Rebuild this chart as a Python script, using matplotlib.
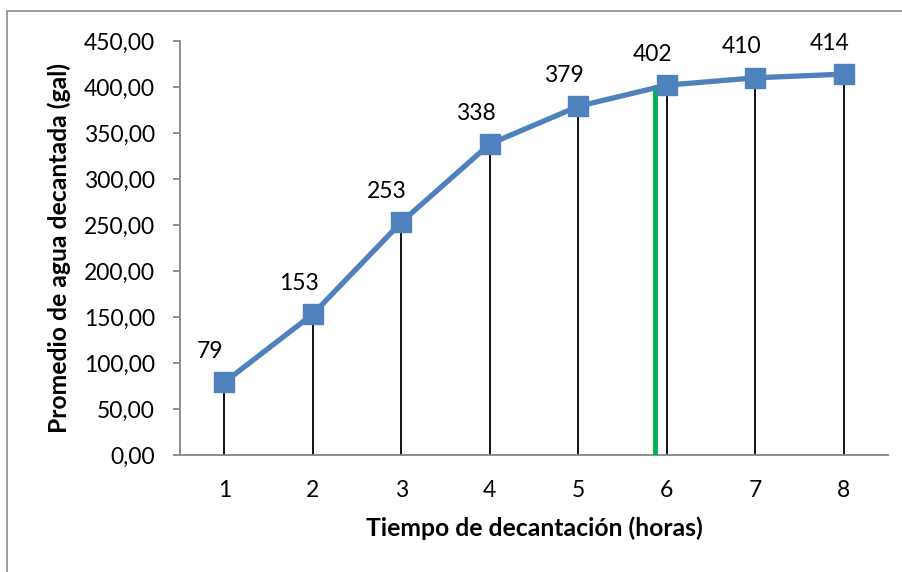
import matplotlib.pyplot as plt
from matplotlib.transforms import offset_copy

# Average decanted water per hour of settling
horas = [1, 2, 3, 4, 5, 6, 7, 8]
agua_gal = [79, 153, 253, 338, 379, 402, 410, 414]
y_ticks = [0, 50, 100, 150, 200, 250, 300, 350, 400, 450]
# green reference line
x_ref = 5.87
y_ref = 402

plt.rcParams['font.family'] = ['Lato', 'DejaVu Sans']

fig = plt.figure(figsize=(9.03, 5.72), dpi=100)
# outer chart frame
fig.patches.append(plt.Rectangle((7 / 903, -0.1), 1.2, 1 - 11 / 572 + 0.1,
                                 transform=fig.transFigure, fill=False,
                                 edgecolor='#8c8c8c', linewidth=1.2))

ax = fig.add_axes([180 / 903, 1 - 455 / 572, (888 - 180) / 903, (455 - 41) / 572])

blue = '#4F81BD'
axis_gray = '#868686'

# drop lines from each point down to the axis
ax.vlines(horas, 0, agua_gal, colors='black', linewidth=1.3, zorder=2)
ax.vlines(x_ref, 0, y_ref, colors='#00B050', linewidth=3.5, zorder=3)

ax.plot(horas, agua_gal, color=blue, linewidth=3.8, marker='s',
        markersize=15, markerfacecolor=blue, markeredgecolor=blue, zorder=4)

lbl_tr = offset_copy(ax.transData, fig=fig, x=-14, y=31, units='dots')
for h, v in zip(horas, agua_gal):
    ax.text(h, v, f'{v}', transform=lbl_tr, ha='center', va='center',
            fontsize=16.5, color='black')

ax.set_xlim(0.5, 8.5)
ax.set_ylim(0, 450)
ax.set_xticks(horas)
ax.set_xticklabels([str(h) for h in horas])
ax.set_yticks(y_ticks)
ax.set_yticklabels([f'{t},00' for t in y_ticks])

for side in ['top', 'right']:
    ax.spines[side].set_visible(False)
for side in ['left', 'bottom']:
    ax.spines[side].set_color(axis_gray)
    ax.spines[side].set_linewidth(1.3)

ax.tick_params(axis='y', length=5, width=1.3, color=axis_gray, labelsize=16.5, pad=13)
ax.tick_params(axis='x', length=0, labelsize=16.5, pad=18)

ax.set_xlabel('Tiempo de decantación (horas)', fontsize=17.8, fontweight='bold', labelpad=11)
ax.set_ylabel('Promedio de agua decantada (gal)', fontsize=17.8, fontweight='bold', labelpad=9)

fig.savefig('out.png', dpi=100)
